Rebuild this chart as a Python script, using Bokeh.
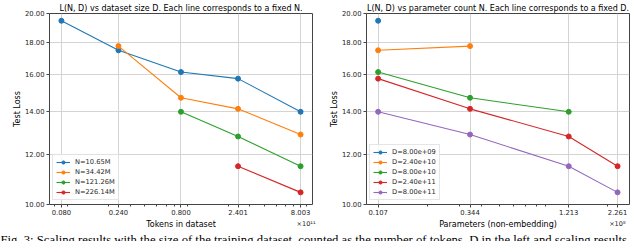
from bokeh.plotting import figure
from bokeh.models import (Range1d, FixedTicker, PrintfTickFormatter, Legend, LegendItem, Label)
from bokeh.layouts import column, row
from bokeh.embed import file_html
from bokeh.resources import INLINE

# ---------------- data ----------------
tokens = [0.080, 0.240, 0.800, 2.401, 8.003]          # dataset size, x 1e11
token_labels = ["0.080", "0.240", "0.800", "2.401", "8.003"]
params = [0.1065, 0.3442, 1.2126, 2.2614]             # parameter count, x 1e8
param_labels = ["0.107", "0.344", "1.213", "2.261"]
model_names = ["N=10.65M", "N=34.42M", "N=121.26M", "N=226.14M"]
data_names = ["D=8.00e+09", "D=2.40e+10", "D=8.00e+10", "D=2.40e+11", "D=8.00e+11"]
# test loss, one list per model size (index = dataset size), None = not run
loss_n10 = [19.48, 17.50, 16.17, 15.79, 14.00]
loss_n34 = [None, 17.77, 14.73, 14.15, 12.89]
loss_n121 = [None, None, 14.00, 12.80, 11.49]
loss_n226 = [None, None, None, 11.49, 10.45]
loss_ticks = [10, 12, 14, 16, 18, 20]

losses = [loss_n10, loss_n34, loss_n121, loss_n226]
colors = ["#1f77b4", "#ff7f0e", "#2ca02c", "#d62728", "#9467bd"]

FONT = "DejaVu Sans"
TXT = "#262626"


def base_fig(width, x_range, ticks, minor, labels, title, ml, mr):
    p = figure(width=width, height=218, x_axis_type="log", y_axis_type="log",
               x_range=x_range, y_range=Range1d(10, 20),
               toolbar_location=None, output_backend="svg",
               min_border_left=ml, min_border_right=mr,
               min_border_top=13, min_border_bottom=14)
    p.title.text = title
    p.title.align = "center"
    p.title.text_font = FONT
    p.title.text_font_size = "8px"
    p.title.text_font_style = "normal"
    p.title.text_color = "black"
    p.title.standoff = 2
    p.title.offset = 0
    p.outline_line_color = "#444444"
    p.outline_line_width = 1
    p.xaxis.ticker = FixedTicker(ticks=ticks, minor_ticks=minor)
    p.xaxis.major_label_overrides = {t: l for t, l in zip(ticks, labels)}
    p.yaxis.ticker = FixedTicker(ticks=loss_ticks, minor_ticks=[])
    p.yaxis.formatter = PrintfTickFormatter(format="%.2f")
    for ax in (p.xaxis[0], p.yaxis[0]):
        ax.axis_line_color = None
        ax.major_tick_in = 0
        ax.major_tick_out = 3
        ax.minor_tick_in = 0
        ax.minor_tick_out = 2
        ax.major_tick_line_color = "#444444"
        ax.minor_tick_line_color = "#444444"
        ax.major_label_text_font = FONT
        ax.major_label_text_font_size = "6.8px"
        ax.major_label_text_color = TXT
        ax.major_label_standoff = 2
        ax.axis_label_text_font = FONT
        ax.axis_label_text_font_size = "8px"
        ax.axis_label_text_font_style = "normal"
        ax.axis_label_text_color = "black"
    p.yaxis.axis_label_standoff = 0
    p.yaxis.axis_label = "Test Loss"
    p.grid.grid_line_color = "#cfcfcf"
    p.grid.grid_line_width = 0.9
    p.xgrid.ticker = FixedTicker(ticks=ticks)
    p.ygrid.ticker = FixedTicker(ticks=loss_ticks)
    return p


def add_series(p, xs, ys, color, name, items):
    pts = [(x, y) for x, y in zip(xs, ys) if y is not None]
    px = [a for a, _ in pts]
    py = [b for _, b in pts]
    r1 = p.line(px, py, line_color=color, line_width=1.1)
    r2 = p.scatter(px, py, size=5, fill_color=color, line_color=color)
    items.append(LegendItem(label=name, renderers=[r1, r2]))


def add_legend(p, items, loc):
    leg = Legend(items=items, location=loc, orientation="vertical")
    leg.label_text_font = FONT
    leg.label_text_font_size = "6.7px"
    leg.label_text_color = TXT
    leg.glyph_width = 14
    leg.glyph_height = 8
    leg.label_height = 8
    leg.spacing = 2
    leg.padding = 3
    leg.margin = 0
    leg.label_standoff = 5
    leg.border_line_color = "#cccccc"
    leg.border_line_width = 1
    leg.background_fill_alpha = 0.8
    p.add_layout(leg, "center")


# ---------------- left: loss vs dataset size ----------------
minor_tok = [0.07, 0.09] + [k / 10 for k in range(2, 10)] + [float(k) for k in range(2, 10)]
p1 = base_fig(316, Range1d(0.0636, 10.07), tokens, minor_tok, token_labels,
              "L(N, D) vs dataset size D. Each line corresponds to a fixed N.", 49, 4)
items1 = []
for ys, c, n in zip(losses, colors, model_names):
    add_series(p1, tokens, ys, c, n, items1)
add_legend(p1, items1, (3, 4))

# ---------------- right: loss vs parameter count ----------------
minor_par = [k / 10 for k in range(2, 10)] + [2.0]
p2 = base_fig(324, Range1d(0.0918, 2.634), params, minor_par, param_labels,
              "L(N, D) vs parameter count N. Each line corresponds to a fixed D.", 50, 11)
items2 = []
for j, (c, n) in enumerate(zip(colors, data_names)):
    ys = [losses[i][j] for i in range(len(params))]
    add_series(p2, params, ys, c, n, items2)
add_legend(p2, items2, (3, 4))

# ---------------- x-axis titles, offset texts and caption strip ----------------
p3 = figure(width=640, height=23, x_range=(0, 1), y_range=(0, 1), toolbar_location=None,
            output_backend="svg", min_border=0)
p3.axis.visible = False
p3.grid.visible = False
p3.outline_line_color = None


def strip_text(x, y, text, align, size, font=FONT, baseline="middle", color="black"):
    p3.add_layout(Label(x=x, y=y, x_units="screen", y_units="screen", text=text,
                        text_align=align, text_baseline=baseline, text_font=font,
                        text_font_size=size, text_color=color))


strip_text(180.5, 17, "Tokens in dataset", "center", "8px")
strip_text(497.5, 17, "Parameters (non-embedding)", "center", "8px")
strip_text(315, 18, "\u00d710\u00b9\u00b9", "right", "6.5px", color=TXT)
strip_text(625, 18, "\u00d710\u2078", "right", "6.5px", color=TXT)
strip_text(0, 9, "Fig. 3: Scaling results with the size of the training dataset, counted as the number of tokens, D in the left and scaling results",
           "left", "12.7px", font="Liberation Serif", baseline="top")

layout = column(row(p1, p2), p3)
open("out.html", "w").write(file_html(layout, INLINE))
